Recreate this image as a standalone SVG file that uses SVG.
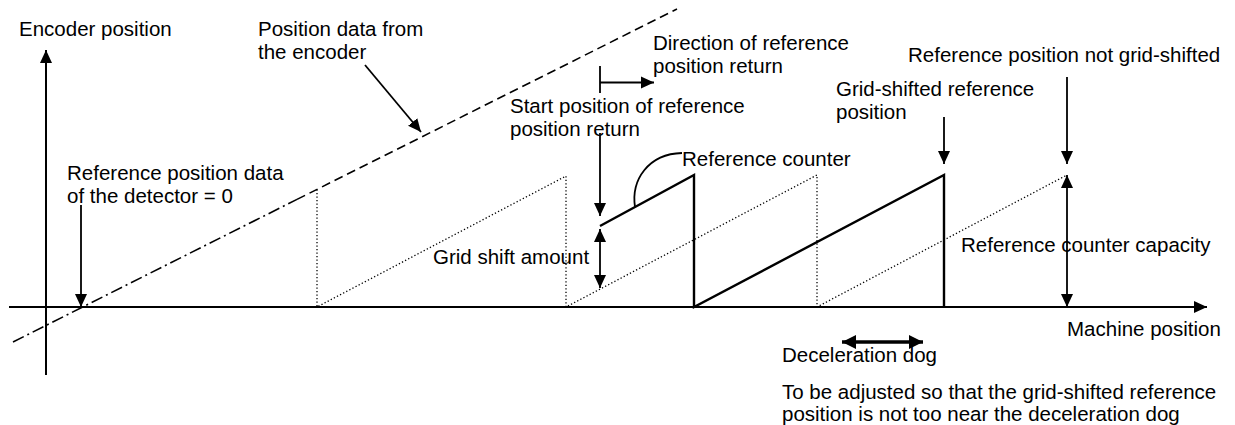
<svg xmlns="http://www.w3.org/2000/svg" width="1235" height="425" viewBox="0 0 1235 425">
  <style>
    text { font-family: "Liberation Sans", Arial, sans-serif; font-size: 20.5px; fill: #000; }
    .axis { stroke: #000; stroke-width: 2; fill: none; }
    .thin { stroke: #000; stroke-width: 1.8; fill: none; }
    .saw { stroke: #000; stroke-width: 2.4; fill: none; }
    .dot { stroke: #000; stroke-width: 1.3; fill: none; stroke-dasharray: 1.3 2.2; }
    .dash { stroke: #000; stroke-width: 1.6; fill: none; stroke-dasharray: 9 5; }
    .dashdot { stroke: #000; stroke-width: 1.6; fill: none; stroke-dasharray: 12 4 2 4; }
    .ar { marker-end: url(#head); }
    .ar2 { marker-start: url(#head); marker-end: url(#head); }
  </style>
  <defs>
    <marker id="head" markerUnits="userSpaceOnUse" markerWidth="13" markerHeight="13" refX="13" refY="6.5" orient="auto-start-reverse">
      <path d="M0,0.5 L13,6.5 L0,12.5 z" fill="#000"/>
    </marker>
    <marker id="bighead" markerUnits="userSpaceOnUse" markerWidth="14" markerHeight="14" refX="14" refY="7" orient="auto-start-reverse">
      <path d="M0,0 L14,7 L0,14 z" fill="#000"/>
    </marker>
  </defs>

  <!-- axes -->
  <g id="axes">
    <line class="axis ar" x1="9" y1="307" x2="1207" y2="307"/>
    <line class="axis ar" x1="46" y1="375" x2="46" y2="50"/>
  </g>

  <!-- encoder position data: dash-dot near the origin, dashed further up -->
  <g id="encoder-line">
    <line class="dashdot" x1="13" y1="342" x2="297" y2="199.4"/>
    <line class="dash" x1="297" y1="199.4" x2="677" y2="9"/>
  </g>

  <!-- reference counter not grid-shifted (dotted sawtooth) -->
  <g id="counter-unshifted">
    <path class="dot" d="M317,189.5 L317,307 L566,176 L566,307 L817,175 L817,307 L1067,175"/>
  </g>

  <!-- grid-shifted reference counter (solid sawtooth) -->
  <g id="counter-shifted">
    <path class="saw" d="M600,226 L694,175 L694,307 L944,175 L944,307"/>
  </g>

  <!-- connectors and dimension arrows -->
  <g id="connectors">
    <line class="thin ar" x1="365" y1="65" x2="421" y2="132"/>
    <line class="thin ar" x1="81" y1="205" x2="81" y2="307"/>
    <line class="thin" x1="600" y1="66" x2="600" y2="93"/>
    <line class="thin ar" x1="600" y1="82.5" x2="654" y2="82.5"/>
    <line class="thin ar" x1="600" y1="133" x2="600" y2="216"/>
    <line class="thin ar2" x1="600" y1="229" x2="600" y2="288"/>
    <path class="thin" d="M635,207 C631,180 648,154 682,153"/>
    <line class="thin ar" x1="944" y1="117" x2="944" y2="164"/>
    <line class="thin ar" x1="1067" y1="77" x2="1067" y2="164"/>
    <line class="thin ar2" x1="1067" y1="175" x2="1067" y2="307"/>
    <line stroke="#000" stroke-width="3.5" marker-start="url(#bighead)" marker-end="url(#bighead)" x1="842" y1="342" x2="923" y2="342"/>
  </g>

  <!-- labels -->
  <g id="labels">
    <text x="19" y="35.5">Encoder position</text>
    <text x="258" y="35.5">Position data from</text>
    <text x="258" y="58.5">the encoder</text>
    <text x="67" y="180">Reference position data</text>
    <text x="67" y="203">of the detector = 0</text>
    <text x="653" y="50">Direction of reference</text>
    <text x="653" y="73">position return</text>
    <text x="510" y="113">Start position of reference</text>
    <text x="510" y="136">position return</text>
    <text x="682" y="166">Reference counter</text>
    <text x="836" y="96">Grid-shifted reference</text>
    <text x="836" y="119">position</text>
    <text x="908" y="62">Reference position not grid-shifted</text>
    <text x="433" y="264">Grid shift amount</text>
    <text x="961" y="252">Reference counter capacity</text>
    <text x="1067" y="336">Machine position</text>
    <text x="782" y="362">Deceleration dog</text>
    <text x="782" y="399">To be adjusted so that the grid-shifted reference</text>
    <text x="782" y="421">position is not too near the deceleration dog</text>
  </g>
</svg>
